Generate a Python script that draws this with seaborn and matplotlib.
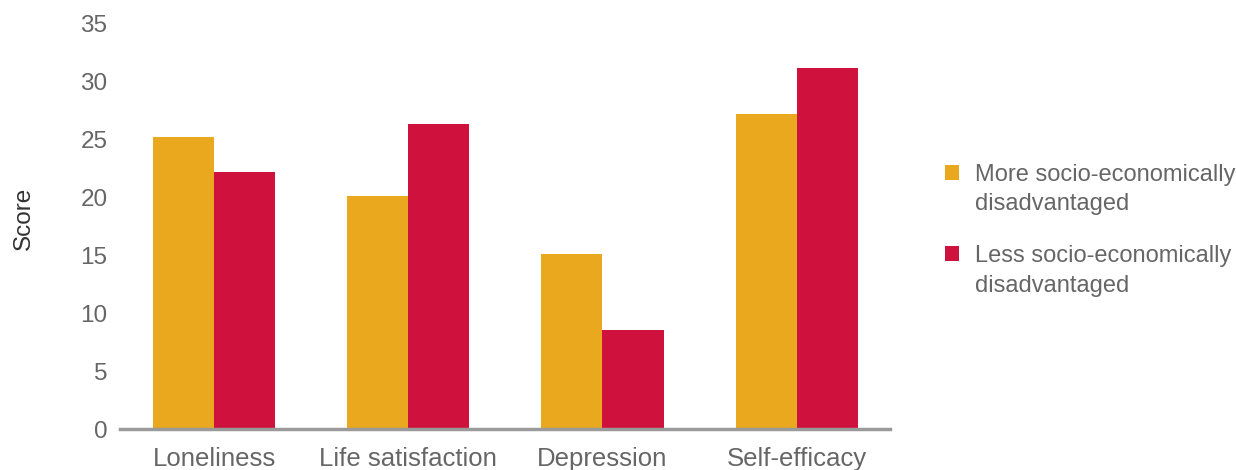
import matplotlib
matplotlib.use("Agg")
import matplotlib.pyplot as plt
import seaborn as sns
import pandas as pd

categories = ["Loneliness", "Life satisfaction", "Depression", "Self-efficacy"]
more_disadv = [25.2, 20.1, 15.1, 27.2]
less_disadv = [22.2, 26.4, 8.6, 31.2]
series_names = ["More socio-economically\ndisadvantaged", "Less socio-economically\ndisadvantaged"]
colors = ["#EAA81F", "#CE123D"]

df = pd.DataFrame({
    "category": categories * 2,
    "score": more_disadv + less_disadv,
    "group": [series_names[0]] * 4 + [series_names[1]] * 4,
})

sns.set_style("white")
plt.rcParams["font.family"] = ["Liberation Sans", "DejaVu Sans"]

fig = plt.figure(figsize=(12.36, 4.70), dpi=100)
ax = fig.add_axes([0.097, 0.087, 0.623, 0.862])

sns.barplot(data=df, x="category", y="score", hue="group", palette=colors,
            width=0.63, saturation=1, linewidth=0, ax=ax, legend=True)

ax.set_xlim(-0.485, 3.48)
ax.set_ylim(0, 35)
ax.set_yticks(range(0, 36, 5))
for s in ["top", "right", "left"]:
    ax.spines[s].set_visible(False)
ax.spines["bottom"].set_color("#9a9a9a")
ax.spines["bottom"].set_linewidth(2.5)
ax.tick_params(axis="both", length=0, labelcolor="#666666")
ax.tick_params(axis="y", pad=9, labelsize=17.5)
ax.tick_params(axis="x", pad=13, labelsize=18.5)
ax.set_xlabel("")
ax.set_ylabel("Score", fontsize=17.5, color="#333333")
ax.yaxis.set_label_coords(-0.11, 0.52)

handles, labels = ax.get_legend_handles_labels()
leg = ax.legend(handles, labels, loc="center left", bbox_to_anchor=(1.071, 0.491),
                frameon=False, fontsize=17, labelcolor="#666666",
                handlelength=0.6, handleheight=0.6, handletextpad=0.7,
                labelspacing=1.25, borderpad=0, borderaxespad=0)
for t in leg.get_texts():
    t.set_linespacing(1.45)
# align the squares with the first line of each label
for h in leg.legend_handles:
    h.set_y(h.get_y() + 12.5)

fig.savefig("out.png", dpi=100)
